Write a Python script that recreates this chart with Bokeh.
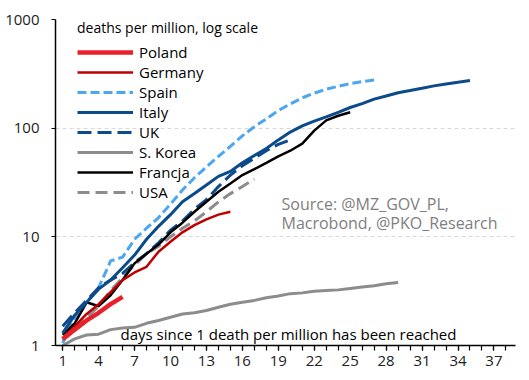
from bokeh.plotting import figure
from bokeh.models import FixedTicker, Label, Legend, LegendItem, PrintfTickFormatter, Range1d
from bokeh.embed import file_html
from bokeh.resources import INLINE

# ---- data (deaths per million, by days since 1 death per million) ----
poland = [1.15, 1.4, 1.7, 2.0, 2.4, 2.8]
germany = [1.15, 1.5, 1.95, 2.4, 3.1, 4.0, 4.7, 5.3, 7.3, 9.0, 11.0, 12.8, 14.5, 16.0, 17.0]
spain = [1.05, 1.8, 2.5, 3.4, 6.0, 6.5, 9.5, 12.0, 15.0, 20.0, 27.0, 35.0, 44.0, 55.0, 68.0,
         85.0, 103.0, 122.0, 145.0, 167.0, 190.0, 210.0, 228.0, 243.0, 257.0, 268.0, 278.0]
italy = [1.3, 1.9, 2.5, 3.3, 4.0, 5.2, 6.8, 9.5, 12.5, 16.0, 21.0, 25.0, 30.0, 36.0, 40.0,
         48.0, 56.0, 65.0, 78.0, 92.0, 105.0, 116.0, 127.0, 140.0, 155.0, 168.0, 185.0, 198.0,
         212.0, 222.0, 233.0, 245.0, 255.0, 265.0, 275.0]
uk = [1.5, 2.0, 2.6, 3.4, 4.0, 4.6, 5.8, 7.0, 8.8, 11.5, 14.0, 18.0, 22.0, 29.0, 37.0,
      45.0, 53.0, 62.0, 71.0, 78.0]
korea = [1.0, 1.15, 1.25, 1.27, 1.4, 1.45, 1.47, 1.6, 1.7, 1.82, 1.95, 2.0, 2.1, 2.25, 2.4,
         2.5, 2.6, 2.75, 2.85, 3.0, 3.05, 3.15, 3.2, 3.25, 3.35, 3.45, 3.55, 3.7, 3.8]
france = [1.25, 1.6, 2.5, 2.3, 2.9, 4.0, 5.7, 7.0, 8.5, 11.0, 13.5, 17.0, 21.0, 26.0, 31.0,
          37.0, 42.0, 48.0, 55.0, 62.0, 72.0, 95.0, 118.0, 130.0, 140.0]
usa = [1.1, 1.4, 1.8, 2.3, 3.2, 4.2, 5.5, 7.0, 8.2, 10.0, 12.0, 14.0, 17.0, 21.0, 25.0, 29.0, 34.0]

x_tick_labels = list(range(1, 38, 3))
y_ticks = [1, 10, 100, 1000]

FONT = "Open Sans"

p = figure(width=521, height=378, x_range=Range1d(0.4, 38.8), y_range=Range1d(1, 1000),
           y_axis_type="log", output_backend="svg", toolbar_location=None,
           min_border_left=55, min_border_right=6, min_border_top=19, min_border_bottom=33,
           outline_line_color=None, background_fill_color="white", border_fill_color="white")

def days(vals):
    return list(range(1, len(vals) + 1))

r_usa = p.line(days(usa), usa, line_color="#8c8c8c", line_width=3, line_dash="12 6")
r_korea = p.line(days(korea), korea, line_color="#8c8c8c", line_width=3)
r_spain = p.line(days(spain), spain, line_color="#4da6f0", line_width=3, line_dash="9 4")
r_uk = p.line(days(uk), uk, line_color="#0b4a8b", line_width=3, line_dash="14 6")
r_france = p.line(days(france), france, line_color="black", line_width=2.5)
r_italy = p.line(days(italy), italy, line_color="#0b4a8b", line_width=3)
r_germany = p.line(days(germany), germany, line_color="#c00000", line_width=2.5)
r_poland = p.line(days(poland), poland, line_color="#e8202a", line_width=4.5)

# axes
p.xaxis.ticker = FixedTicker(ticks=x_tick_labels, minor_ticks=list(range(1, 39)))
p.xaxis.major_tick_in = 0
p.xaxis.major_tick_out = 5
p.xaxis.minor_tick_in = 0
p.xaxis.minor_tick_out = 5
p.xaxis.minor_tick_line_color = "black"
p.xaxis.axis_line_color = "black"
p.xaxis.axis_line_width = 1.3
p.xaxis.major_tick_line_width = 1.2
p.xaxis.minor_tick_line_width = 1.2
p.xaxis.major_label_text_font = FONT
p.xaxis.major_label_text_font_size = "15px"
p.xaxis.major_label_text_color = "#222222"
p.xaxis.major_label_standoff = 5

p.yaxis.ticker = FixedTicker(ticks=y_ticks, minor_ticks=[])
p.yaxis.formatter = PrintfTickFormatter(format="%d")
p.yaxis.major_tick_in = 0
p.yaxis.major_tick_out = 4
p.yaxis.minor_tick_line_color = None
p.yaxis.axis_line_color = "black"
p.yaxis.axis_line_width = 1.5
p.yaxis.major_label_text_font = FONT
p.yaxis.major_label_text_font_size = "15px"
p.yaxis.major_label_text_color = "#222222"
p.yaxis.major_label_standoff = 12

p.xgrid.grid_line_color = None
p.ygrid.ticker = FixedTicker(ticks=[10, 100, 1000])
p.ygrid.grid_line_color = "#d9d9d9"
p.ygrid.grid_line_dash = "4 3"
p.ygrid.grid_line_width = 1

# legend
items = [
    LegendItem(label="Poland", renderers=[r_poland]),
    LegendItem(label="Germany", renderers=[r_germany]),
    LegendItem(label="Spain", renderers=[r_spain]),
    LegendItem(label="Italy", renderers=[r_italy]),
    LegendItem(label="UK", renderers=[r_uk]),
    LegendItem(label="S. Korea", renderers=[r_korea]),
    LegendItem(label="Francja", renderers=[r_france]),
    LegendItem(label="USA", renderers=[r_usa]),
]
legend = Legend(items=items, location=(22, 143), title="deaths per million, log scale",
                title_text_font=FONT, title_text_font_size="14px", title_text_font_style="normal",
                title_text_color="black", title_standoff=5,
                label_text_font=FONT, label_text_font_size="15px", label_text_color="black",
                glyph_width=56, glyph_height=20, label_height=20, label_standoff=6,
                spacing=0, padding=0, margin=0,
                background_fill_alpha=0, border_line_color=None)
p.add_layout(legend)

# annotations
p.add_layout(Label(x=233, y=12, x_units="screen", y_units="screen",
                   text="days since 1 death per million has been reached",
                   text_font=FONT, text_font_size="15px", text_color="black",
                   text_align="center", text_baseline="middle"))
p.add_layout(Label(x=226, y=142, x_units="screen", y_units="screen",
                   text="Source: @MZ_GOV_PL,",
                   text_font=FONT, text_font_size="16px", text_color="#808080",
                   text_align="left", text_baseline="middle"))
p.add_layout(Label(x=226, y=123, x_units="screen", y_units="screen",
                   text="Macrobond, @PKO_Research",
                   text_font=FONT, text_font_size="16px", text_color="#808080",
                   text_align="left", text_baseline="middle"))

open("out.html", "w").write(file_html(p, INLINE))
